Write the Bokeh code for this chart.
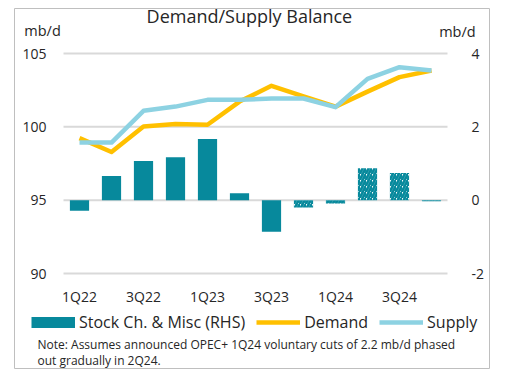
from bokeh.plotting import figure
from bokeh.models import (Range1d, Label, Legend, LegendItem, ColumnDataSource)
from bokeh.core.properties import value
from bokeh.embed import file_html
from bokeh.resources import INLINE

quarters = ["1Q22", "2Q22", "3Q22", "4Q22", "1Q23", "2Q23", "3Q23", "4Q23",
            "1Q24", "2Q24", "3Q24", "4Q24"]
demand = [99.23, 98.28, 100.02, 100.2, 100.14, 101.72, 102.8, 102.07,
          101.38, 102.4, 103.39, 103.84]
supply = [98.93, 98.93, 101.09, 101.38, 101.84, 101.84, 101.93, 101.93,
          101.34, 103.27, 104.07, 103.84]
stock_change = [-0.29, 0.66, 1.07, 1.17, 1.67, 0.19, -0.86, -0.2,
                -0.09, 0.87, 0.74, -0.03]
n_actual = 7  # first 7 quarters actual, rest projected (hatched)
left_ticks = [90, 95, 100, 105]
right_ticks = [-2, 0, 2, 4]
x_tick_labels = quarters[::2]

FONT = "Open Sans"
TEAL = "#07899C"
YELLOW = "#FFC000"
LBLUE = "#8DD2E2"
TXT = "#262626"
GRID = "#D9D9D9"

xs = list(range(len(quarters)))

# geometry (pixels) of the framed panel
PX_X = 32.0              # pixels per category
PX_Y = 220.0 / 15.0      # pixels per left-axis unit
FRAME_W, FRAME_H = 475, 360
X0_PX = 65               # pixel offset of x=0 from frame left
Y105_PX = 45             # pixel offset of y=105 from frame top

x_lo = -X0_PX / PX_X
x_hi = x_lo + FRAME_W / PX_X
y_hi = 105 + Y105_PX / PX_Y
y_lo = y_hi - FRAME_H / PX_Y
r_scale = (right_ticks[-1] - right_ticks[0]) / (left_ticks[-1] - left_ticks[0])
r_lo = (y_lo - 95) * r_scale
r_hi = (y_hi - 95) * r_scale

p = figure(width=FRAME_W + 15, height=FRAME_H + 9, output_backend="svg",
           toolbar_location=None,
           x_range=Range1d(x_lo, x_hi), y_range=Range1d(y_lo, y_hi),
           min_border_left=14, min_border_right=1, min_border_top=8,
           min_border_bottom=1)
p.extra_y_ranges = {"r": Range1d(r_lo, r_hi)}
p.axis.visible = False
p.grid.visible = False
p.outline_line_color = "#BFBFBF"
p.outline_line_width = 1
p.background_fill_color = "white"
p.border_fill_color = "white"

# grid lines at left ticks
p.segment(x0=[-0.5] * len(left_ticks), x1=[len(quarters) - 0.5] * len(left_ticks),
          y0=left_ticks, y1=left_ticks, line_color=GRID, line_width=2)

# bars
act = ColumnDataSource(dict(x=xs[:n_actual], top=stock_change[:n_actual]))
proj = ColumnDataSource(dict(x=xs[n_actual:], top=stock_change[n_actual:]))
p.vbar(x="x", top="top", bottom=0, width=0.6, source=act, y_range_name="r",
       fill_color=TEAL, line_color=None)
p.vbar(x="x", top="top", bottom=0, width=0.6, source=proj, y_range_name="r",
       fill_color="white", line_color=None, hatch_pattern="/",
       hatch_color=TEAL, hatch_scale=6, hatch_weight=2.6)

# lines
p.line(xs, demand, line_color=YELLOW, line_width=4.5, line_join="round")
p.line(xs, supply, line_color=LBLUE, line_width=4.5, line_join="round")

# tick labels
p.text(x=[-0.5] * len(left_ticks), y=left_ticks, text=[str(t) for t in left_ticks],
       x_offset=-17, text_align="right", text_baseline="middle",
       text_font=value(FONT), text_font_size="14px", text_color=TXT)
p.text(x=[len(quarters) - 0.5] * len(right_ticks), y=right_ticks,
       text=[str(t) for t in right_ticks], y_range_name="r",
       x_offset=24, text_align="left", text_baseline="middle",
       text_font=value(FONT), text_font_size="14px", text_color=TXT)
p.text(x=xs[::2], y=[left_ticks[0]] * len(x_tick_labels), text=x_tick_labels,
       y_offset=23, text_align="center", text_baseline="middle",
       text_font=value(FONT), text_font_size="14px", text_color=TXT)

# texts
def lab(x, y, text, size, align="left"):
    p.add_layout(Label(x=x, y=y, text=text, text_font=FONT,
                       text_font_size=size, text_color=TXT, text_align=align,
                       text_baseline="middle"))

lab(5.31, 107.59, "Demand/Supply Balance", "18px", "center")
lab(-1.156, 106.57, "mb/d", "14.5px", "center")
lab(11.81, 106.5, "mb/d", "14.5px", "center")
lab(-1.3125, 85.16, "Note: Assumes announced OPEC+ 1Q24 voluntary cuts of 2.2 mb/d phased", "12px")
lab(-1.3125, 84.07, "out gradually in 2Q24.", "12px")

# legend proxies (one undrawn point each so the legend swatch renders)
nan = float("nan")
r_stock = p.line([nan], [nan], line_color=TEAL, line_width=11)
r_dem = p.line([nan], [nan], line_color=YELLOW, line_width=4.5)
r_sup = p.line([nan], [nan], line_color=LBLUE, line_width=4.5)
legend = Legend(items=[LegendItem(label="Stock Ch. & Misc (RHS)", renderers=[r_stock]),
                       LegendItem(label="Demand", renderers=[r_dem]),
                       LegendItem(label="Supply", renderers=[r_sup])],
                orientation="horizontal", location=(17, 35),
                glyph_width=44, glyph_height=20, label_height=20,
                label_standoff=4, spacing=11, padding=0, margin=0,
                border_line_color=None, background_fill_alpha=0,
                label_text_font=FONT, label_text_font_size="16px",
                label_text_color=TXT)
p.add_layout(legend)

open("out.html", "w").write(file_html(p, INLINE))
